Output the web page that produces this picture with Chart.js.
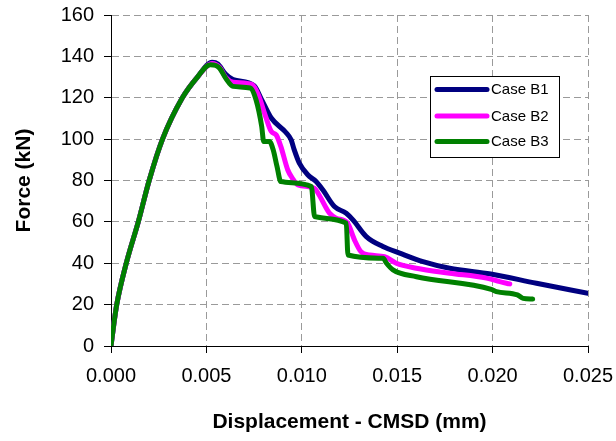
<!DOCTYPE html>
<html>
<head>
<meta charset="utf-8">
<script src="https://cdn.jsdelivr.net/npm/chart.js@4/dist/chart.umd.min.js"></script>
<style>
  html, body { margin: 0; padding: 0; background: #fff; }
  canvas { display: block; }
</style>
</head>
<body>
<canvas id="c" width="616" height="441"></canvas>
<script>
// Force vs. crack mouth opening displacement for three cases
const seriesNames = ['Case B1', 'Case B2', 'Case B3'];
const seriesColors = ['#000080', '#FF00FF', '#008000'];

const b1Cmsd  = [0, 0.00014, 0.0003, 0.0008, 0.00143, 0.002, 0.0027, 0.00374, 0.00453, 0.0053, 0.0056, 0.006, 0.0064, 0.0075, 0.0079, 0.0084, 0.00917, 0.00944, 0.0096, 0.00987, 0.01031, 0.01075, 0.0111, 0.01171, 0.01233, 0.01268, 0.01338, 0.01425, 0.01513, 0.01635, 0.01775, 0.0199, 0.0223, 0.025];
const b1Force = [0, 10, 20, 40, 60, 80, 100, 120, 130, 137.2, 136.3, 131.5, 128.8, 125.8, 119, 110.2, 103.2, 99.7, 94.9, 88.4, 82.8, 79.5, 75.5, 67.4, 64.2, 61, 52.9, 48.1, 44.9, 40.8, 37.6, 34.8, 30.3, 25.5];

const b2Cmsd  = [0, 0.00014, 0.0003, 0.0008, 0.00143, 0.002, 0.0027, 0.00374, 0.00453, 0.0053, 0.0057, 0.006, 0.0064, 0.0074, 0.00775, 0.0081, 0.0084, 0.00866, 0.0089, 0.00926, 0.0095, 0.0098, 0.01066, 0.0109, 0.01145, 0.0118, 0.0124, 0.01276, 0.0131, 0.01355, 0.01434, 0.01495, 0.016, 0.01775, 0.01968, 0.02038, 0.0209];
const b2Force = [0, 10, 20, 40, 60, 80, 100, 120, 130, 136.6, 134.6, 130, 127.5, 126.3, 120.7, 111, 103.7, 102, 96.5, 85.2, 81.2, 77.9, 76.3, 73.1, 64.2, 61.8, 59.4, 51.3, 45.6, 44, 43.2, 40, 37.6, 35.2, 32.8, 31.1, 30];

const b3Cmsd  = [0, 0.00014, 0.0003, 0.0008, 0.00143, 0.002, 0.0027, 0.00374, 0.00453, 0.0052, 0.0055, 0.0057, 0.006, 0.0064, 0.0073, 0.0076, 0.0079, 0.008, 0.0083, 0.0085, 0.0087, 0.0089, 0.0105, 0.01067, 0.01233, 0.01242, 0.01426, 0.01444, 0.01478, 0.01601, 0.01993, 0.0202, 0.0213, 0.0216, 0.0221];
const b3Force = [0, 10, 20, 40, 60, 80, 100, 120, 130, 136, 135.6, 134.2, 129.6, 125.5, 124.7, 119, 106, 98.9, 98.9, 94.9, 86.8, 79.5, 77.1, 62.6, 59.4, 44, 42.4, 40, 36.8, 33.5, 27.4, 26.3, 24.7, 23, 22.7];

const xTicks = [0, 0.005, 0.010, 0.015, 0.020, 0.025];
const yTicks = [0, 20, 40, 60, 80, 100, 120, 140, 160];

const toPoints = (xs, ys) => xs.map((x, i) => ({ x: x, y: ys[i] }));
const seriesData = [toPoints(b1Cmsd, b1Force), toPoints(b2Cmsd, b2Force), toPoints(b3Cmsd, b3Force)];

const FONT = '"Liberation Sans", Arial, sans-serif';

// Boxed legend placed inside the plot, upper right
const boxLegend = {
  id: 'boxLegend',
  afterDraw(chart) {
    const ctx = chart.ctx;
    const x0 = 430.5, y0 = 76.5, w = 129, h = 81;
    ctx.save();
    ctx.fillStyle = '#fff';
    ctx.fillRect(x0, y0, w, h);
    ctx.strokeStyle = '#000';
    ctx.lineWidth = 1;
    ctx.strokeRect(x0, y0, w, h);
    const rows = [89.5, 116, 141.5];
    chart.data.datasets.forEach((ds, i) => {
      const y = rows[i];
      ctx.strokeStyle = ds.borderColor;
      ctx.lineWidth = 5;
      ctx.lineCap = 'round';
      ctx.beginPath();
      ctx.moveTo(437, y);
      ctx.lineTo(487, y);
      ctx.stroke();
      ctx.fillStyle = '#000';
      ctx.font = '15px ' + FONT;
      ctx.textBaseline = 'middle';
      ctx.textAlign = 'left';
      ctx.fillText(ds.label, 491, y + 0.5);
    });
    ctx.restore();
  }
};

const axisCommon = (min, max, step, fmt, tickList) => ({
  type: 'linear',
  min: min,
  max: max,
  afterBuildTicks(scale) { scale.ticks = tickList.map(v => ({ value: v })); },
  ticks: {
    stepSize: step,
    autoSkip: false,
    maxRotation: 0,
    color: '#000',
    font: { family: FONT, size: 20 },
    callback: fmt
  },
  grid: {
    color: '#9a9a9a',
    lineWidth: 1,
    tickColor: '#000',
    tickLength: 7,
    tickWidth: 1,
    tickBorderDash: []
  },
  border: { display: true, color: '#000', width: 1, dash: [7, 4] }
});

const xAxis = axisCommon(0, 0.025, 0.005, v => Number(v).toFixed(3), xTicks);
xAxis.ticks.padding = 11;
xAxis.afterFit = s => { s.height = 95; s.paddingLeft = 0; s.paddingRight = 0; };
xAxis.title = {
  display: true,
  text: 'Displacement - CMSD (mm)',
  color: '#000',
  font: { family: FONT, size: 21, weight: 'bold' },
  padding: { top: 0, bottom: 6 }
};

const yAxis = axisCommon(0, 160, 20, v => String(v), yTicks);
yAxis.ticks.padding = 10;
yAxis.afterFit = s => { s.width = 111; s.paddingTop = 0; s.paddingBottom = 0; };
yAxis.title = {
  display: true,
  text: 'Force (kN)',
  color: '#000',
  font: { family: FONT, size: 21, weight: 'bold' },
  padding: { top: 12, bottom: 0 }
};

new Chart(document.getElementById('c'), {
  type: 'line',
  data: {
    datasets: seriesNames.map((name, i) => ({
      label: name,
      data: seriesData[i],
      borderColor: seriesColors[i],
      backgroundColor: seriesColors[i],
      order: 3 - i
    }))
  },
  options: {
    responsive: false,
    animation: false,
    devicePixelRatio: 1,
    parsing: false,
    layout: { padding: { top: 15, right: 28, left: 0, bottom: 0 } },
    plugins: { legend: { display: false }, tooltip: { enabled: false } },
    elements: {
      point: { radius: 0 },
      line: {
        borderWidth: 5,
        cubicInterpolationMode: 'monotone',
        borderCapStyle: 'round',
        borderJoinStyle: 'round',
        fill: false
      }
    },
    scales: { x: xAxis, y: yAxis }
  },
  plugins: [boxLegend]
});
</script>
</body>
</html>
